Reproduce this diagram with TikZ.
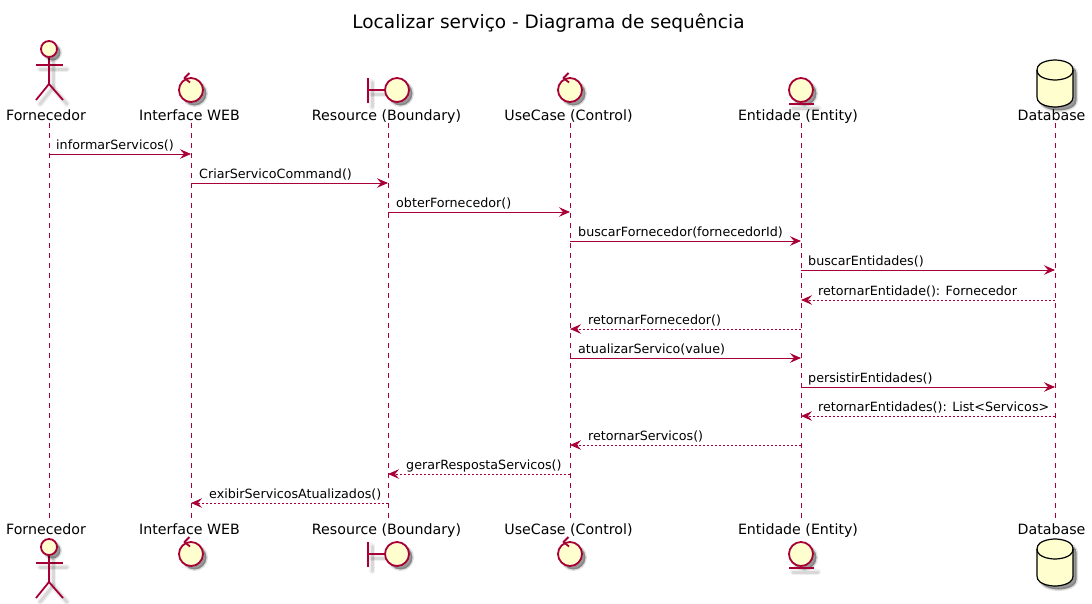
\documentclass[tikz,border=0pt]{standalone}
\usepackage{fontspec}
\setmainfont{DejaVu Sans}
\usetikzlibrary{arrows.meta}
\definecolor{umlred}{HTML}{A80036}
\definecolor{umlfill}{HTML}{FEFECE}
\tikzset{
  halo/.style={preaction={draw=black, opacity=.06, line width=6pt, line cap=round, transform canvas={shift={(4,4)}}},
    preaction={draw=black, opacity=.1, line width=3pt, line cap=round, transform canvas={shift={(4,4)}}}},
  halofill/.style={preaction={draw=black, opacity=.12, line width=3pt, transform canvas={shift={(3.5,3.5)}}},
    preaction={fill=black, opacity=.4, transform canvas={shift={(3.5,3.5)}}}},
  figline/.style={draw=umlred, line width=1.8pt, halo},
  figball/.style={draw=umlred, fill=umlfill, line width=1.8pt, halofill},
  title/.style={font=\fontsize{18.5}{22}\selectfont, inner sep=0, anchor=base},
  participant/.style={font=\fontsize{14.2}{16}\selectfont, inner sep=0, text height=14, text depth=3, anchor=base},
  life/.style={draw=umlred, line width=.9pt, dash pattern=on 5pt off 5pt},
  call/.style={draw=umlred, line width=.9pt, -{Stealth[length=11pt, width=9.5pt, inset=4pt]}},
  reply/.style={call, dash pattern=on 2pt off 2pt},
  msglabel/.style={font=\fontsize{12.7}{15}\selectfont, inner sep=0, anchor=base west},
  pics/actorfig/.style={code={
    \draw[figline] (-13,16) -- (14,16);
    \draw[figline] (0,8) -- (0,35);
    \draw[figline] (-13,51) -- (0,35) -- (14,51);
    \draw[figball] (0,0) circle (8);
  }},
  pics/controlfig/.style={code={
    \draw[figball] (0,0) circle (12);
    \draw[draw=umlred, line width=1.8pt, line join=round] (-1.5,-17) -- (-6.5,-12) -- (-1,-7.5);
  }},
  pics/boundaryfig/.style={code={
    \draw[figline] (-20,-12) -- (-20,13);
    \draw[figline] (-20,0) -- (-3,0);
    \draw[figball] (9,0) circle (12);
  }},
  pics/entityfig/.style={code={
    \draw[figball] (0,0) circle (12);
    \draw[figline] (-12,14) -- (13,14);
  }},
  pics/dbfig/.style={code={
    \draw[draw=black, fill=umlfill, line width=1.2pt, halofill] (-18,-13) .. controls (-18,-23) and (0,-23) .. (0,-23) .. controls (0,-23) and (18,-23) .. (18,-13)
      -- (18,14) .. controls (18,24) and (0,24) .. (0,24) .. controls (0,24) and (-18,24) .. (-18,14) -- cycle;
    \draw[draw=black, line width=1.2pt] (-18,-13) .. controls (-18,-3) and (0,-3) .. (0,-3) .. controls (0,-3) and (18,-3) .. (18,-13);
  }}
}
\begin{document}
\begin{tikzpicture}[x=1pt, y=-1pt]
\useasboundingbox (0,0) rectangle (1092,603);
\node[title] (diagramtitle) at (548.5,28) {Localizar serviço - Diagrama de sequência};
% lifeline positions and message rows
\coordinate (xforn) at (49,0);
\coordinate (xweb) at (191,0);
\coordinate (xres) at (388,0);
\coordinate (xcase) at (570,0);
\coordinate (xent) at (801,0);
\coordinate (xdb) at (1055,0);
\foreach \row/\ypos in {1/154,2/183,3/212,4/241,5/270,6/300,7/329,8/358,9/387,10/416,11/445,12/474,13/503}
  \coordinate (r\row) at (0,\ypos);
% participants, head
\node[participant] (fornhead) at (46,120) {Fornecedor};
\node[participant] (webhead) at (189.5,120) {Interface WEB};
\node[participant] (reshead) at (386.5,120) {Resource (Boundary)};
\node[participant] (casehead) at (568.5,120) {UseCase (Control)};
\node[participant] (enthead) at (798,120) {Entidade (Entity)};
\node[participant] (dbhead) at (1051.5,120) {Database};
% participants, foot
\node[participant] (fornfoot) at (46,534) {Fornecedor};
\node[participant] (webfoot) at (189.5,534) {Interface WEB};
\node[participant] (resfoot) at (386.5,534) {Resource (Boundary)};
\node[participant] (casefoot) at (568.5,534) {UseCase (Control)};
\node[participant] (entfoot) at (798,534) {Entidade (Entity)};
\node[participant] (dbfoot) at (1051.5,534) {Database};
% figures
\pic at (49,49) {actorfig};
\pic at (191,90) {controlfig};
\pic at (388,90) {boundaryfig};
\pic at (570,90) {controlfig};
\pic at (801,90) {entityfig};
\pic at (1055,83) {dbfig};
\pic at (49,547) {actorfig};
\pic at (191,554) {controlfig};
\pic at (388,554) {boundaryfig};
\pic at (570,554) {controlfig};
\pic at (801,554) {entityfig};
\pic at (1055,562) {dbfig};
% lifelines
\draw[life] (fornhead.south -| xforn) -- (fornfoot.north -| xforn);
\draw[life] (webhead.south -| xweb) -- (webfoot.north -| xweb);
\draw[life] (reshead.south -| xres) -- (resfoot.north -| xres);
\draw[life] (casehead.south -| xcase) -- (casefoot.north -| xcase);
\draw[life] (enthead.south -| xent) -- (entfoot.north -| xent);
\draw[life] (dbhead.south -| xdb) -- (dbfoot.north -| xdb);
% messages
\draw[call] (xforn |- r1) -- (xweb |- r1);
\draw[call] (xweb |- r2) -- (xres |- r2);
\draw[call] (xres |- r3) -- (xcase |- r3);
\draw[call] (xcase |- r4) -- (xent |- r4);
\draw[call] (xent |- r5) -- (xdb |- r5);
\draw[reply] (xdb |- r6) -- (xent |- r6);
\draw[reply] (xent |- r7) -- (xcase |- r7);
\draw[call] (xcase |- r8) -- (xent |- r8);
\draw[call] (xent |- r9) -- (xdb |- r9);
\draw[reply] (xdb |- r10) -- (xent |- r10);
\draw[reply] (xent |- r11) -- (xcase |- r11);
\draw[reply] (xcase |- r12) -- (xres |- r12);
\draw[reply] (xres |- r13) -- (xweb |- r13);
% message labels
\node[msglabel] (m1) at (56,149) {informarServicos()};
\node[msglabel] (m2) at (199,178) {CriarServicoCommand()};
\node[msglabel] (m3) at (396,207) {obterFornecedor()};
\node[msglabel] (m4) at (578,236) {buscarFornecedor(fornecedorId)};
\node[msglabel] (m5) at (808,265.5) {buscarEntidades()};
\node[msglabel] (m6) at (818,295) {retornarEntidade(): Fornecedor};
\node[msglabel] (m7) at (588,324) {retornarFornecedor()};
\node[msglabel] (m8) at (578,353) {atualizarServico(value)};
\node[msglabel] (m9) at (808,382) {persistirEntidades()};
\node[msglabel] (m10) at (818,411) {retornarEntidades(): List<Servicos>};
\node[msglabel] (m11) at (588,440) {retornarServicos()};
\node[msglabel] (m12) at (406,469.5) {gerarRespostaServicos()};
\node[msglabel] (m13) at (209,498.5) {exibirServicosAtualizados()};
\end{tikzpicture}
\end{document}
